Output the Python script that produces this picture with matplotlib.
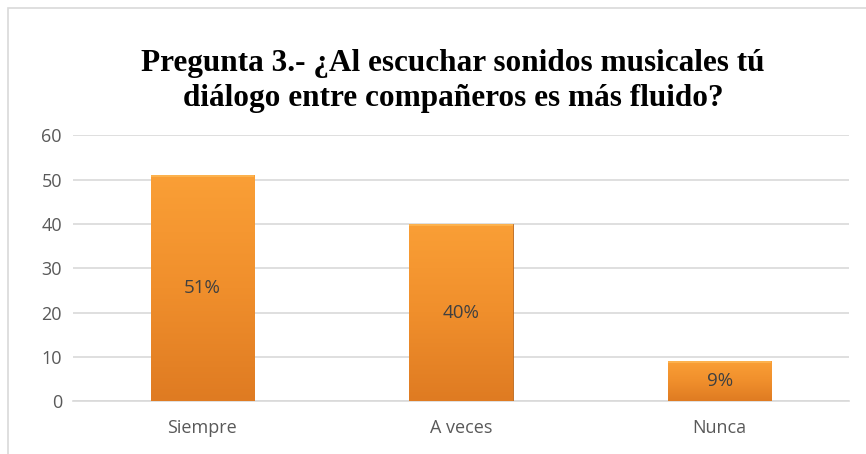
import matplotlib.pyplot as plt
import numpy as np
from matplotlib.patches import Rectangle
from matplotlib.colors import LinearSegmentedColormap

categorias = ['Siempre', 'A veces', 'Nunca']
valores = [51, 40, 9]
etiquetas = ['51%', '40%', '9%']
yticks = [0, 10, 20, 30, 40, 50, 60]

titulo = 'Pregunta 3.- ¿Al escuchar sonidos musicales tú\ndiálogo entre compañeros es más fluido?'

W, H = 866, 454
fig = plt.figure(figsize=(W / 100, H / 100), dpi=100)

# chart frame (light gray border, cut at right/bottom)
fig.patches.append(Rectangle((8 / W, -0.1), 1.2, (H - 8) / H + 0.1,
                             transform=fig.transFigure, fill=False,
                             edgecolor='#d9d9d9', linewidth=1.2))

ax = fig.add_axes([73 / W, (H - 401) / H, (849 - 73) / W, (401 - 135.5) / H])

x = np.arange(len(categorias))
bars = ax.bar(x, valores, width=0.4, color='#f39a30', zorder=3,
              edgecolor='#b8651a', linewidth=0.6)

# vertical gradient for the bevelled orange look (bottom -> top)
cmap = LinearSegmentedColormap.from_list('naranja', ['#df7b22', '#f08f2c', '#fa9f36'])
grad = np.linspace(0, 1, 256).reshape(-1, 1)
for b in bars:
    x0, y0 = b.get_x(), b.get_y()
    w, h = b.get_width(), b.get_height()
    im = ax.imshow(grad, cmap=cmap, aspect='auto', zorder=3.5, origin='lower',
                   extent=[x0, x0 + w, y0, y0 + h], interpolation='bicubic')
    im.set_clip_path(b)
    ax.add_patch(Rectangle((x0, y0 + h - 0.35), w, 0.35, color='#ffc060',
                           alpha=0.6, zorder=4, linewidth=0))

for xi, v, lab in zip(x, valores, etiquetas):
    ax.text(xi, v / 2, lab, ha='center', va='center', fontsize=13.5,
            color='#404040', zorder=5, family='Open Sans')

ax.set_xlim(-0.5, len(categorias) - 0.5)
ax.set_ylim(0, 60)
ax.set_yticks(yticks)
ax.set_xticks(x)
ax.set_xticklabels(categorias)
ax.grid(axis='y', color='#d9d9d9', linewidth=1.2, zorder=0)
for s in ['top', 'right', 'left']:
    ax.spines[s].set_visible(False)
ax.spines['bottom'].set_color('#d9d9d9')
ax.spines['bottom'].set_linewidth(1.2)
ax.tick_params(axis='both', length=0, labelsize=13, colors='#595959', pad=8)
ax.tick_params(axis='x', pad=13)
for t in ax.get_xticklabels() + ax.get_yticklabels():
    t.set_family('Open Sans')

fig.text(0.5 + 20 / W, 1 - 81 / H, titulo, ha='center', va='center',
         fontsize=22.5, fontweight='bold', family='Liberation Serif',
         linespacing=1.3)

fig.savefig('out.png', dpi=100)
